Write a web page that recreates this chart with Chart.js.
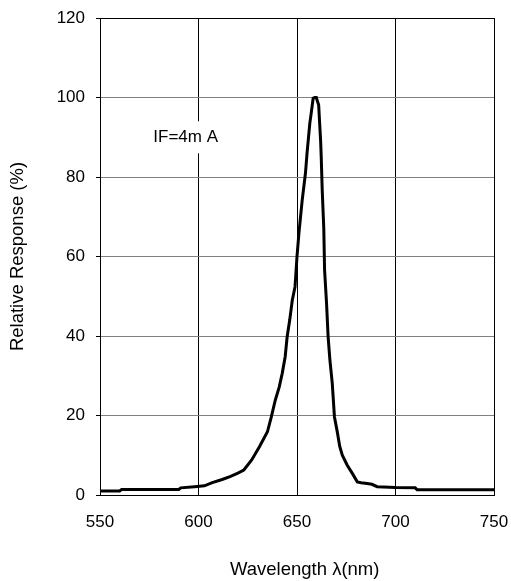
<!DOCTYPE html>
<html>
<head>
<meta charset="utf-8">
<script src="https://cdn.jsdelivr.net/npm/chart.js@4/dist/chart.umd.min.js"></script>
<style>
html,body{margin:0;padding:0;background:#fff;}
canvas{display:block;}
</style>
</head>
<body>
<canvas id="c" width="511" height="581"></canvas>
<script>
// Data
const wavelength = [550, 560, 561, 590, 591, 598, 603, 607, 612, 616, 620, 623, 627, 631, 635, 637, 639, 641, 642.5, 644, 645, 646.3, 647.6, 649, 650, 651, 652.6, 654.3, 655.1, 656.5, 657.2, 658.2, 659, 659.8, 661, 661.5, 662, 662.3, 662.8, 663.6, 664, 665, 665.8, 666.7, 667.9, 669, 670.4, 671.7, 673, 675.5, 678, 680.6, 682.5, 685.6, 688, 690.7, 700, 710, 711, 750];
const response = [1.0, 1.0, 1.4, 1.4, 1.8, 2.1, 2.3, 3.1, 3.9, 4.6, 5.5, 6.3, 8.8, 12.2, 15.9, 19.7, 23.9, 27.2, 30.6, 34.8, 39.8, 44, 49, 52.4, 60, 66, 74, 81, 86, 93.5, 96, 99.8, 100, 100, 98.1, 93.5, 89, 85, 76.7, 67, 56.6, 48.2, 39.8, 34, 28.1, 19.7, 16, 12.2, 10, 7.5, 5.5, 3.3, 3.1, 2.9, 2.7, 2.1, 1.9, 1.8, 1.3, 1.3];
const xTicks = [550, 600, 650, 700, 750];
const yTicks = [0, 20, 40, 60, 80, 100, 120];
const annotationText = "IF=4m A";
const annotationPos = {x: 593.5, y: 90};
const xTitle = "\u00a0\u00a0\u00a0Wavelength \u03bb(nm)";
const yTitle = "Relative Response (%)";

const points = wavelength.map((w, i) => ({x: w, y: response[i]}));
const FONT = "'Liberation Sans', Arial, sans-serif";

const annotationPlugin = {
  id: 'ann',
  afterDraw(chart) {
    const ctx = chart.ctx;
    const xs = chart.scales.x, ys = chart.scales.y;
    const cx = xs.getPixelForValue(annotationPos.x);
    const cy = ys.getPixelForValue(annotationPos.y);
    ctx.save();
    ctx.font = "17px " + FONT;
    const w = ctx.measureText(annotationText).width;
    ctx.fillStyle = '#fff';
    ctx.fillRect(cx - w / 2 - 4, cy - 16, w + 8, 32);
    ctx.fillStyle = '#000';
    ctx.textAlign = 'center';
    ctx.textBaseline = 'middle';
    ctx.fillText(annotationText, cx, cy);
    ctx.restore();
  }
};

new Chart(document.getElementById('c'), {
  type: 'line',
  data: {
    datasets: [{
      data: points,
      borderColor: '#000',
      borderWidth: 3,
      pointRadius: 0,
      tension: 0,
      fill: false
    }]
  },
  options: {
    responsive: false,
    animation: false,
    devicePixelRatio: 1,
    layout: {padding: {left: 0, top: 18, right: 17, bottom: 0}},
    plugins: {legend: {display: false}, tooltip: {enabled: false}},
    scales: {
      x: {
        type: 'linear',
        min: 550, max: 750,
        afterBuildTicks: s => { s.ticks = xTicks.map(v => ({value: v})); },
        afterFit: s => { s.height = 86; s.paddingLeft = 0; s.paddingRight = 0; },
        ticks: {color: '#000', font: {family: FONT, size: 17}, padding: 17, maxRotation: 0},
        grid: {color: '#000', lineWidth: 1, drawTicks: false},
        border: {display: true, color: '#000', width: 1},
        title: {display: true, text: xTitle, color: '#000', font: {family: FONT, size: 18.5}, padding: {top: 0, bottom: 0}}
      },
      y: {
        type: 'linear',
        min: 0, max: 120,
        afterBuildTicks: s => { s.ticks = yTicks.map(v => ({value: v})); },
        afterFit: s => { s.width = 100; s.paddingTop = 0; s.paddingBottom = 0; },
        ticks: {color: '#000', font: {family: FONT, size: 17}, padding: 11},
        grid: {
          color: c => (c.tick && c.tick.value === 120) ? '#000' : '#808080',
          lineWidth: 1, drawTicks: true, tickLength: 4, tickColor: '#000'
        },
        border: {display: true, color: '#000', width: 1},
        title: {display: true, text: yTitle, color: '#000', font: {family: FONT, size: 18.5}, padding: {top: 7, bottom: 0}}
      }
    }
  },
  plugins: [annotationPlugin]
});
</script>
</body>
</html>
